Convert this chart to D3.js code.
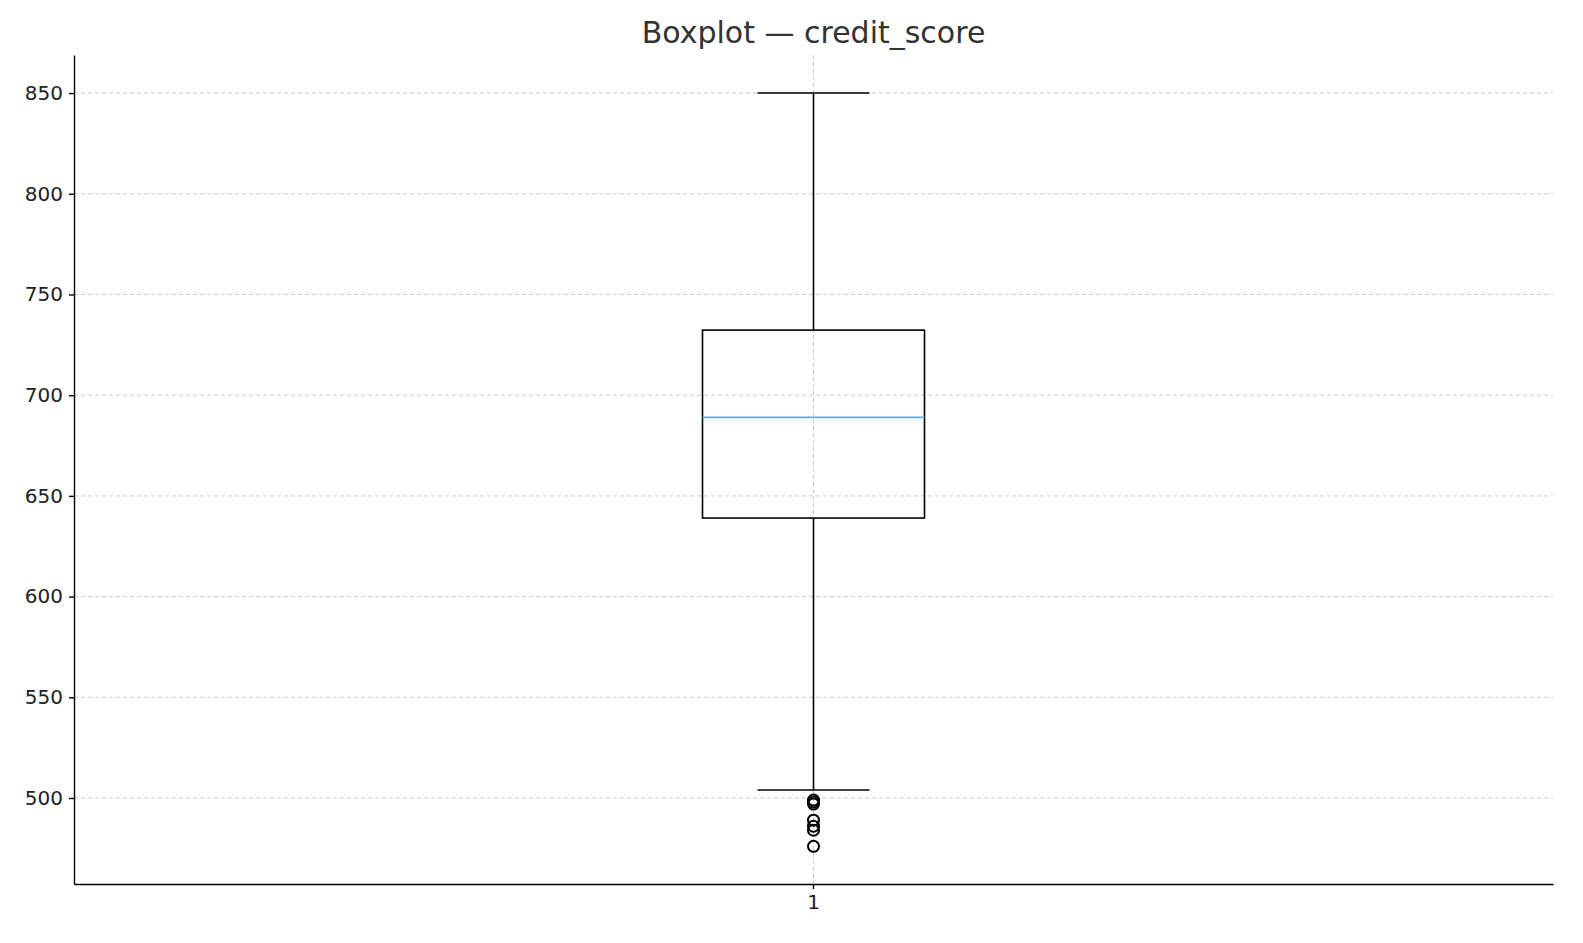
<!DOCTYPE html><html><head><meta charset="utf-8"><script src="https://d3js.org/d3.v7.min.js"></script>
<style>body{margin:0;background:#fff}text{font-family:"DejaVu Sans",sans-serif}</style></head><body><svg width="1583" height="943"></svg>
<script>
const categories=["1"];
const stats={q1:639,median:689,q3:732.3,lo:504,hi:850};
const outliers=[499,498,497,489,486,484,476];
const yTicks=[500,550,600,650,700,750,800,850];
const svg=d3.select("svg");
const L=74,R=1553,T=55,B=884;
const x=d3.scaleBand().domain(categories).range([L,R]);
const y=d3.scaleLinear().domain([457.3,868.9]).range([B,T]);
const cx=x("1")+x.bandwidth()/2;
const g=svg.append("g");
yTicks.forEach(t=>g.append("line").attr("x1",L).attr("x2",R).attr("y1",y(t)).attr("y2",y(t)).attr("stroke","#c4c4c4").attr("stroke-dasharray","4,3").attr("stroke-width",0.9));
g.append("line").attr("x1",cx).attr("x2",cx).attr("y1",T).attr("y2",B).attr("stroke","#c4c4c4").attr("stroke-dasharray","4,3").attr("stroke-width",0.9);
const bw=222,cw=112;
const s="#000";
svg.append("line").attr("x1",cx).attr("x2",cx).attr("y1",y(stats.q3)).attr("y2",y(stats.hi)).attr("stroke",s).attr("stroke-width",1.6);
svg.append("line").attr("x1",cx).attr("x2",cx).attr("y1",y(stats.q1)).attr("y2",y(stats.lo)).attr("stroke",s).attr("stroke-width",1.6);
[stats.hi,stats.lo].forEach(v=>svg.append("line").attr("x1",cx-cw/2).attr("x2",cx+cw/2).attr("y1",y(v)).attr("y2",y(v)).attr("stroke",s).attr("stroke-width",1.6));
svg.append("rect").attr("x",cx-bw/2).attr("width",bw).attr("y",y(stats.q3)).attr("height",y(stats.q1)-y(stats.q3)).attr("fill","none").attr("stroke",s).attr("stroke-width",1.6);
svg.append("line").attr("x1",cx-bw/2).attr("x2",cx+bw/2).attr("y1",y(stats.median)).attr("y2",y(stats.median)).attr("stroke","#5aaee0").attr("stroke-width",1.8);
outliers.forEach(v=>svg.append("circle").attr("cx",cx).attr("cy",y(v)).attr("r",5.5).attr("fill","none").attr("stroke",s).attr("stroke-width",2));
const ya=svg.append("g").attr("transform",`translate(${L},0)`).call(d3.axisLeft(y).tickValues(yTicks).tickSize(5).tickSizeOuter(0).tickPadding(6));
const xa=svg.append("g").attr("transform",`translate(0,${B})`).call(d3.axisBottom(x).tickSize(5).tickSizeOuter(0).tickPadding(6));
[ya,xa].forEach(a=>{a.attr("font-size",null).attr("font-family",null);a.selectAll("text").style("font-size","20px").attr("fill","#222").style("font-family","DejaVu Sans");a.selectAll("line,path").attr("stroke","#000").attr("stroke-width",1.4);});
svg.append("text").attr("x",(L+R)/2).attr("y",43).attr("text-anchor","middle").style("font-size","30px").attr("fill","#333").text("Boxplot — credit_score");
</script></body></html>
